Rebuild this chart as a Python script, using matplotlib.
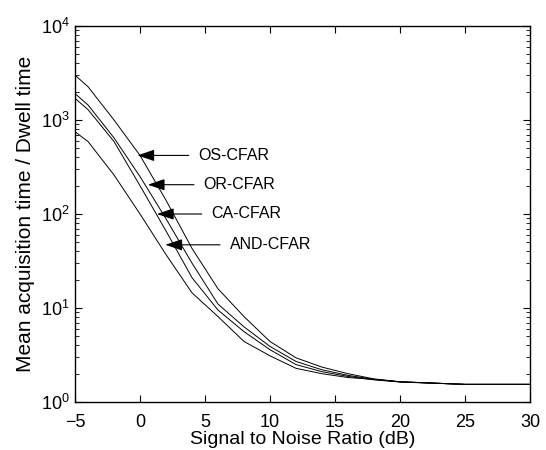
import numpy as np
import matplotlib.pyplot as plt

plt.rcParams['font.family'] = ['Liberation Sans', 'DejaVu Sans']
plt.rcParams['mathtext.fontset'] = 'custom'
plt.rcParams['mathtext.rm'] = 'Liberation Sans'

# SNR grid (dB)
snr = [-5, -4, -2, 0, 2, 4, 6, 8, 10, 12, 14, 16, 18, 20, 25, 30]

# mean acquisition time / dwell time
os_cfar = [3000, 2260, 1000, 420, 140, 43, 16, 8.1, 4.4, 2.95, 2.35, 2.0, 1.76, 1.64, 1.54, 1.54]
or_cfar = [1910, 1445, 645, 250, 89, 30, 11, 6.3, 3.9, 2.7, 2.2, 1.92, 1.74, 1.64, 1.54, 1.54]
ca_cfar = [1700, 1290, 590, 200, 66, 21, 9.5, 5.6, 3.6, 2.5, 2.1, 1.87, 1.72, 1.63, 1.54, 1.54]
and_cfar = [750, 590, 260, 100, 37, 14.5, 8.1, 4.4, 3.1, 2.28, 2.0, 1.82, 1.74, 1.64, 1.54, 1.54]

# annotation labels: (text, text x, text y, arrow tip x)
labels = [("OS-CFAR", 4.5, 420, -0.2),
          ("OR-CFAR", 4.9, 205, 0.6),
          ("CA-CFAR", 5.5, 100, 1.3),
          ("AND-CFAR", 6.9, 47, 1.95)]

fig = plt.figure(figsize=(5.46, 4.5), dpi=100)
ax = fig.add_axes([0.1374, 0.1067, 0.8333, 0.8355])

for y in (os_cfar, or_cfar, ca_cfar, and_cfar):
    ax.semilogy(snr, y, color="black", lw=0.7)

for txt, tx, ty, tip in labels:
    ax.annotate(txt, xy=(tip, ty), xytext=(tx, ty), fontsize=11.5,
                va="center", ha="left",
                arrowprops=dict(arrowstyle="-|>,head_length=0.65,head_width=0.22",
                                color="black", lw=0.8,
                                mutation_scale=16, shrinkA=5, shrinkB=0))

ax.set_xlim(-5, 30)
ax.set_ylim(1, 1e4)
ax.set_xticks(np.arange(-5, 31, 5))
ax.set_xlabel("Signal to Noise Ratio (dB)", fontsize=14, labelpad=0)
ax.set_ylabel("Mean acquisition time / Dwell time", fontsize=15, labelpad=4)
ax.tick_params(which="both", direction="in", top=True, right=True, labelsize=13)
ax.tick_params(axis="x", which="major", length=5, pad=9)
ax.tick_params(axis="y", which="major", length=5, pad=4)
ax.tick_params(which="minor", length=3)
for s in ax.spines.values():
    s.set_linewidth(1.0)

fig.savefig("out.png", dpi=100)
